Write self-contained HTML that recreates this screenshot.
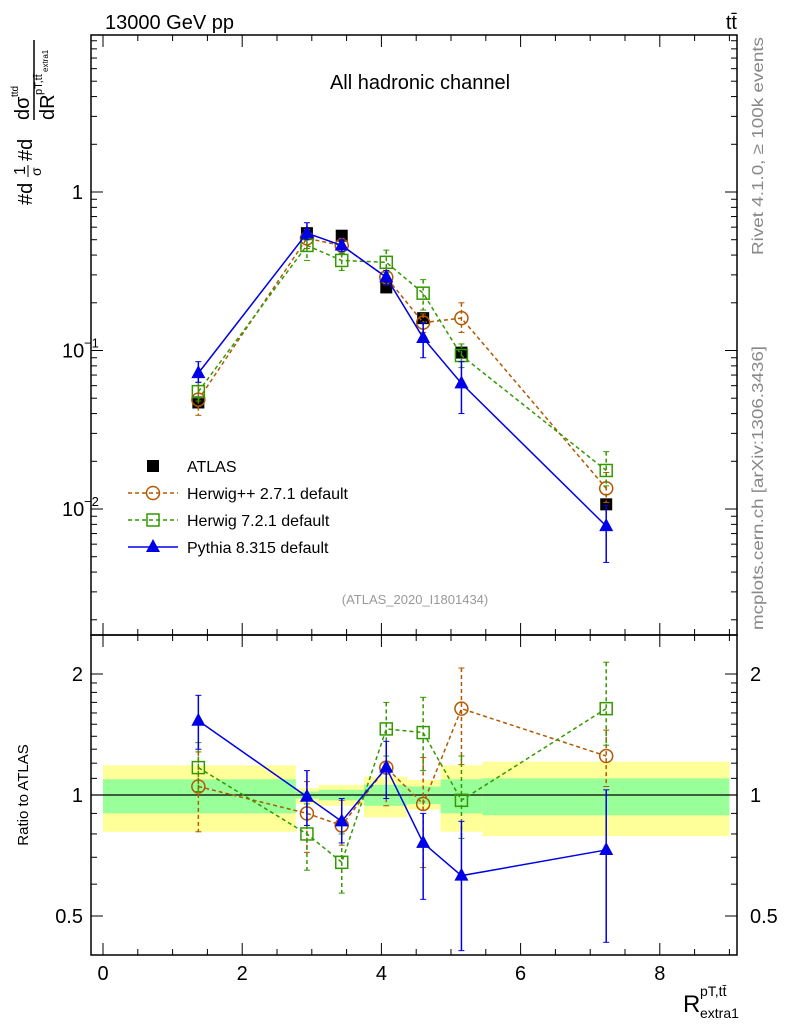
<!DOCTYPE html>
<html><head><meta charset="utf-8"><style>
body{margin:0;background:#fff}
svg{display:block;font-family:"Liberation Sans",sans-serif}
</style></head><body>
<svg id="c" width="786" height="1024" viewBox="0 0 786 1024" xmlns="http://www.w3.org/2000/svg">
<g id="bands"></g>
<g id="axes"></g>
<g id="series"></g>
<text x="105" y="29" font-size="20">13000 GeV pp</text>
<text x="737" y="29" font-size="20" text-anchor="end">tt̄</text>
<text x="420" y="89" font-size="20" text-anchor="middle">All hadronic channel</text>
<text x="415" y="604" font-size="13" fill="#999" text-anchor="middle">(ATLAS_2020_I1801434)</text>
<text transform="translate(763,255) rotate(-90)" font-size="16" fill="#888" textLength="218" lengthAdjust="spacingAndGlyphs">Rivet 4.1.0, ≥ 100k events</text>
<text transform="translate(763,630) rotate(-90)" font-size="16" fill="#888" textLength="284" lengthAdjust="spacingAndGlyphs">mcplots.cern.ch [arXiv:1306.3436]</text>
<g transform="translate(32,205) rotate(-90)">
<text x="0" y="0" font-size="20">#d</text>
<text x="30" y="-7" font-size="16">1</text><line x1="28" y1="-4" x2="40" y2="-4" stroke="#000"/><text x="29" y="9" font-size="14">σ</text>
<text x="44" y="0" font-size="20">#d</text>
<line x1="85" y1="2" x2="165" y2="2" stroke="#000" stroke-width="1.5"/>
<text x="85" y="-3" font-size="20">dσ</text><text x="108" y="-14" font-size="10">ttd</text>
<text x="85" y="22" font-size="20">dR</text><text x="110" y="10" font-size="11">pT,tt̄</text><text x="133" y="16" font-size="8">extra1</text>
</g>
<text x="28" y="795" font-size="15" transform="rotate(-90,28,795)" text-anchor="middle">Ratio to ATLAS</text>
<text x="683" y="1012" font-size="24">R</text>
<text x="700" y="996" font-size="14">pT,tt̄</text>
<text x="700" y="1018" font-size="14">extra1</text>
<g id="legend"></g>
</svg>
<script>
const xs=[1.37,2.93,3.43,4.07,4.6,5.15,7.23];
const atlas=[0.047,0.55,0.53,0.25,0.16,0.097,0.0107];
const hpp=[0.049,0.51,0.46,0.29,0.15,0.16,0.0135];
const hppUp=[0.060,0.58,0.51,0.33,0.17,0.20,0.017];
const hppDn=[0.039,0.44,0.41,0.26,0.13,0.13,0.011];
const h7=[0.055,0.46,0.37,0.36,0.23,0.093,0.0175];
const h7Up=[0.063,0.55,0.41,0.43,0.28,0.11,0.023];
const h7Dn=[0.048,0.37,0.32,0.31,0.18,0.078,0.014];
const py=[0.072,0.55,0.46,0.29,0.12,0.062,0.0078];
const pyUp=[0.085,0.64,0.50,0.32,0.15,0.085,0.0105];
const pyDn=[0.063,0.50,0.42,0.26,0.09,0.040,0.0046];
const rHpp=[1.05,0.90,0.84,1.17,0.95,1.64,1.25];
const rHppUp=[1.28,1.08,0.97,1.20,1.24,2.07,1.45];
const rHppDn=[0.81,0.72,0.75,0.94,0.66,1.19,1.05];
const rH7=[1.17,0.80,0.68,1.46,1.43,0.97,1.64];
const rH7Up=[1.35,0.95,0.80,1.70,1.75,1.25,2.14];
const rH7Dn=[1.02,0.65,0.57,1.25,1.15,0.78,1.33];
const rPy=[1.53,0.99,0.86,1.17,0.76,0.63,0.73];
const rPyUp=[1.77,1.15,0.98,1.36,0.90,0.86,1.03];
const rPyDn=[1.30,0.84,0.76,0.98,0.55,0.41,0.43];
const binEdges=[0,2.77,3.1,3.75,4.37,4.85,5.45,9.0];
const yelUp=[1.185,1.04,1.06,1.11,1.09,1.185,1.21];
const yelDn=[0.81,0.95,0.94,0.88,0.92,0.81,0.79];
const grnUp=[1.094,1.02,1.03,1.06,1.05,1.094,1.10];
const grnDn=[0.90,0.98,0.97,0.94,0.95,0.90,0.89];
const xTicks=[0,2,4,6,8];

const NS="http://www.w3.org/2000/svg";
const L=91,R=737,T=35,M=635,B=955;
const X=v=>103+v*69.6;
const Y=v=>192-Math.log10(v)*158.5;
const RY=v=>795-Math.log2(v)*121;
function el(tag,attrs,parent,txt){const e=document.createElementNS(NS,tag);for(const k in attrs)e.setAttribute(k,attrs[k]);if(txt!==undefined)e.textContent=txt;document.getElementById(parent).appendChild(e);return e;}

for(let i=0;i<yelUp.length;i++){
 const x1=X(binEdges[i]),x2=X(binEdges[i+1]);
 let e=el('rect',{x:x1,y:RY(yelUp[i]),width:x2-x1,height:RY(yelDn[i])-RY(yelUp[i]),fill:'#ffff99'},'bands');
 
 e=el('rect',{x:x1,y:RY(grnUp[i]),width:x2-x1,height:RY(grnDn[i])-RY(grnUp[i]),fill:'#99ff99'},'bands');
 
}
el('rect',{x:L,y:T,width:R-L,height:M-T,fill:'none',stroke:'#000','stroke-width':1.5},'axes');
el('rect',{x:L,y:M,width:R-L,height:B-M,fill:'none',stroke:'#000','stroke-width':1.5},'axes');
el('line',{x1:L,x2:R,y1:RY(1),y2:RY(1),stroke:'#000','stroke-width':1.3},'axes');
for(let v=0;v<=9.01;v+=0.5){
 const big=Math.abs(v-Math.round(v/2)*2)<0.01, len=big?12:6;
 for(const [y0,d] of [[T,1],[M,-1],[M,1],[B,-1]]) el('line',{x1:X(v),x2:X(v),y1:y0,y2:y0+d*len,stroke:'#000'},'axes');
}
xTicks.forEach(v=>{const t=el('text',{x:X(v),y:980,'font-size':20,'text-anchor':'middle'},'axes',v);});
for(let d=-3;d<=0;d++)for(let m=1;m<10;m++){const v=m*Math.pow(10,d);const y=Y(v);if(y<T||y>M)continue;const len=m==1?12:6;
 el('line',{x1:L,x2:L+len,y1:y,y2:y,stroke:'#000'},'axes');el('line',{x1:R,x2:R-len,y1:y,y2:y,stroke:'#000'},'axes');}
[[1,'1'],[0.1,'10'],[0.01,'10']].forEach(([v,s],i)=>{const t=el('text',{x:i?62:83,y:Y(v)+7,'font-size':20,'text-anchor':i?'start':'end'},'axes',s);
 
 if(i){el('text',{x:84,y:Y(v)-3,'font-size':13},'axes',i==1?'−1':'−2');}});
[0.4,0.5,0.6,0.7,0.8,0.9,1,1.1,1.2,1.3,1.4,1.5,1.6,1.7,1.8,1.9,2].forEach(v=>{const y=RY(v);if(y<M||y>B)return;const big=(v==0.5||v==1||v==2),len=big?12:6;
 el('line',{x1:L,x2:L+len,y1:y,y2:y,stroke:'#000'},'axes');el('line',{x1:R,x2:R-len,y1:y,y2:y,stroke:'#000'},'axes');});
[[2,'2'],[1,'1'],[0.5,'0.5']].forEach(([v,s])=>{let t=el('text',{x:83,y:RY(v)+7,'font-size':20,'text-anchor':'end'},'axes',s);
 t=el('text',{x:750,y:RY(v)+7,'font-size':20},'axes',s);});

function marker(type,x,y,col){
 if(type=='sq') return el('rect',{x:x-6,y:y-6,width:12,height:12,fill:'none',stroke:col,'stroke-width':1.5},'series');
 if(type=='ci') return el('circle',{cx:x,cy:y,r:6.5,fill:'none',stroke:col,'stroke-width':1.5},'series');
 if(type=='tr') return el('path',{d:`M${x} ${y-8}L${x+7} ${y+5}L${x-7} ${y+5}Z`,fill:col},'series');
 return el('rect',{x:x-6,y:y-6,width:12,height:12,fill:col},'series');
}
function series(name,vals,up,dn,yf,col,dash,type){
 const pts=vals.map((v,i)=>X(xs[i])+','+yf(v)).join(' ');
 let p=el('polyline',{points:pts,fill:'none',stroke:col,'stroke-width':1.5,'stroke-dasharray':dash},'series');
 
 vals.forEach((v,i)=>{const x=X(xs[i]);
  let e=el('line',{x1:x,x2:x,y1:yf(up[i]),y2:yf(dn[i]),stroke:col,'stroke-width':1.5,'stroke-dasharray':dash},'series');
  
  el('line',{x1:x-3,x2:x+3,y1:yf(up[i]),y2:yf(up[i]),stroke:col},'series');el('line',{x1:x-3,x2:x+3,y1:yf(dn[i]),y2:yf(dn[i]),stroke:col},'series');
  e=marker(type,x,yf(v),col);});
}
const brown='#b35900',green='#339900',blue='#0000e6';
atlas.forEach((v,i)=>{const e=marker('at',X(xs[i]),Y(v),'#000');});
series('herwigpp',hpp,hppUp,hppDn,Y,brown,'4,3','ci');
series('herwig7',h7,h7Up,h7Dn,Y,green,'4,3','sq');
series('pythia',py,pyUp,pyDn,Y,blue,'','tr');
series('herwigpp-ratio',rHpp,rHppUp,rHppDn,RY,brown,'4,3','ci');
series('herwig7-ratio',rH7,rH7Up,rH7Dn,RY,green,'4,3','sq');
series('pythia-ratio',rPy,rPyUp,rPyDn,RY,blue,'','tr');

const leg=[['ATLAS','at','#000',''],['Herwig++ 2.7.1 default','ci',brown,'4,3'],['Herwig 7.2.1 default','sq',green,'4,3'],['Pythia 8.315 default','tr',blue,'']];
leg.forEach((l,i)=>{const y=466+i*27;const g=document.getElementById('legend');
 if(i>0){const ln=el('line',{x1:128,x2:178,y1:y,y2:y,stroke:l[2],'stroke-width':1.5,'stroke-dasharray':l[3]},'legend');}
 const m=marker(l[1],153,y,l[2]);g.appendChild(m);
 const t=el('text',{x:187,y:y+6,'font-size':16},'legend',l[0]);});
</script>
</body></html>
